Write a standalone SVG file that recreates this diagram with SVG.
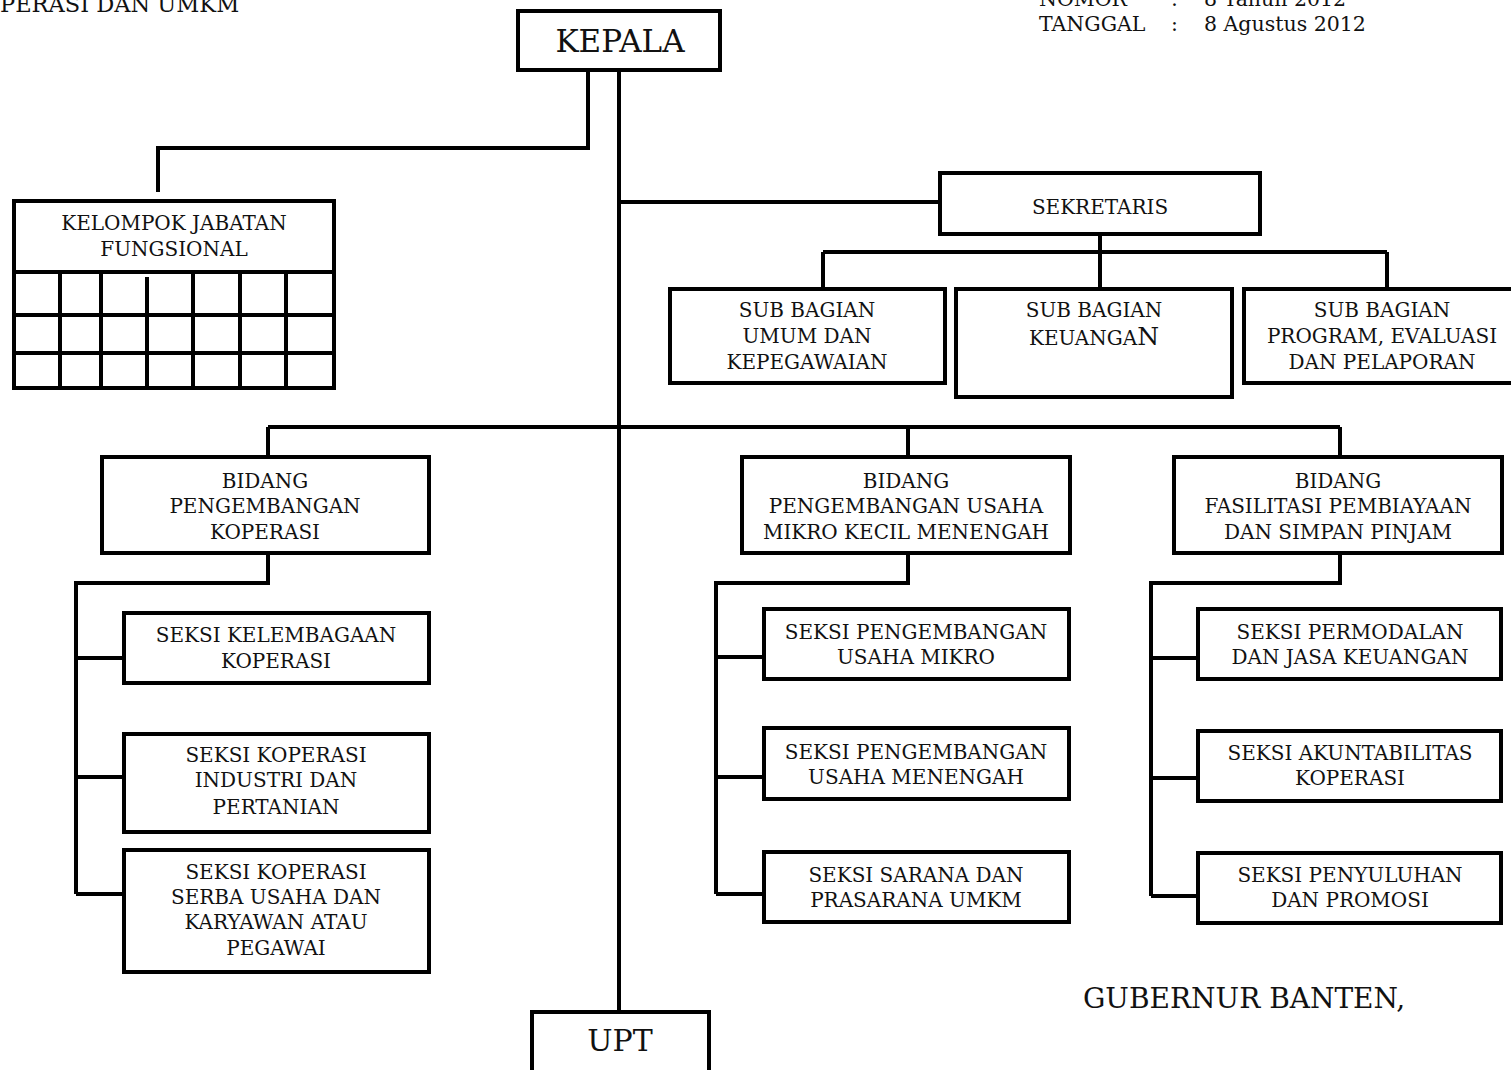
<svg xmlns="http://www.w3.org/2000/svg" width="1511" height="1070" viewBox="0 0 1511 1070">
<style>
.b{fill:#fff;stroke:#000;stroke-width:4}
.c{fill:none;stroke:#000;stroke-width:4}
text{font-family:"DejaVu Serif","Liberation Serif",serif;fill:#111;text-anchor:middle}
.t{font-size:20px}
.h{font-size:31px}
.l{font-size:20.5px;text-anchor:start}
</style>
<rect width="1511" height="1070" fill="#fff"/>
<text class="l" x="0" y="12" style="font-size:22.5px">PERASI DAN UMKM</text>
<text class="l" x="1039" y="6">NOMOR</text><text class="l" x="1171" y="6">:</text><text class="l" x="1204" y="6">8  Tahun 2012</text>
<text class="l" x="1039" y="31">TANGGAL</text><text class="l" x="1171" y="31">:</text><text class="l" x="1204" y="31">8 Agustus 2012</text>
<g id="connectors">
<path class="c" d="M588 70V148H158V192"/>
<path class="c" d="M619 70V1012"/>
<path class="c" d="M619 202H940"/>
<path class="c" d="M1100 234V252M823 252H1387M823 252V289M1100 252V289M1387 252V289"/>
<path class="c" d="M268 427H1340M268 427V457M908 427V457M1340 427V457"/>
<path class="c" d="M268 554V583H76V894M76 658H123M76 777H123M76 894H123"/>
<path class="c" d="M908 554V583H716V894M716 657H763M716 777H763M716 894H763"/>
<path class="c" d="M1340 554V583H1151V896M1151 658H1197M1151 778H1197M1151 896H1197"/>
</g>
<g id="kepala"><rect class="b" x="518" y="11" width="202" height="59"/><text class="h" x="620" y="52">KEPALA</text></g>
<g id="kelompok">
<rect class="b" x="14" y="201" width="320" height="71"/>
<text class="t" x="174" y="230">KELOMPOK JABATAN</text>
<text class="t" x="174" y="256">FUNGSIONAL</text>
<path class="c" d="M14 272V390M60 272V390M101 272V390M147 277V390M193 272V390M240 272V390M286 272V390M334 272V390M14 315H334M14 353H334M12 388H336"/>
</g>
<g id="sekretaris"><rect class="b" x="940" y="173" width="320" height="61"/><text class="t" x="1100" y="214">SEKRETARIS</text></g>
<g id="sub1"><rect class="b" x="670" y="289" width="275" height="94"/><text class="t" x="807" y="317">SUB BAGIAN</text><text class="t" x="807" y="343">UMUM DAN</text><text class="t" x="807" y="369">KEPEGAWAIAN</text></g>
<g id="sub2"><rect class="b" x="956" y="289" width="276" height="108"/><text class="t" x="1094" y="317">SUB BAGIAN</text><text class="t" x="1094" y="345">KEUANGA<tspan font-size="25">N</tspan></text></g>
<g id="sub3"><rect class="b" x="1244" y="289" width="272" height="94"/><text class="t" x="1382" y="317">SUB BAGIAN</text><text class="t" x="1382" y="343">PROGRAM, EVALUASI</text><text class="t" x="1382" y="369">DAN PELAPORAN</text></g>
<g id="bidang1"><rect class="b" x="102" y="457" width="327" height="96"/><text class="t" x="265" y="488">BIDANG</text><text class="t" x="265" y="513">PENGEMBANGAN</text><text class="t" x="265" y="539">KOPERASI</text></g>
<g id="bidang2"><rect class="b" x="742" y="457" width="328" height="96"/><text class="t" x="906" y="488">BIDANG</text><text class="t" x="906" y="513">PENGEMBANGAN USAHA</text><text class="t" x="906" y="539">MIKRO KECIL MENENGAH</text></g>
<g id="bidang3"><rect class="b" x="1174" y="457" width="328" height="96"/><text class="t" x="1338" y="488">BIDANG</text><text class="t" x="1338" y="513">FASILITASI PEMBIAYAAN</text><text class="t" x="1338" y="539">DAN SIMPAN PINJAM</text></g>
<g id="seksi11"><rect class="b" x="124" y="613" width="305" height="70"/><text class="t" x="276" y="642">SEKSI KELEMBAGAAN</text><text class="t" x="276" y="668">KOPERASI</text></g>
<g id="seksi12"><rect class="b" x="124" y="734" width="305" height="98"/><text class="t" x="276" y="762">SEKSI KOPERASI</text><text class="t" x="276" y="787">INDUSTRI DAN</text><text class="t" x="276" y="814">PERTANIAN</text></g>
<g id="seksi13"><rect class="b" x="124" y="850" width="305" height="122"/><text class="t" x="276" y="879">SEKSI KOPERASI</text><text class="t" x="276" y="904">SERBA USAHA DAN</text><text class="t" x="276" y="929">KARYAWAN ATAU</text><text class="t" x="276" y="955">PEGAWAI</text></g>
<g id="seksi21"><rect class="b" x="764" y="609" width="305" height="70"/><text class="t" x="916" y="639">SEKSI PENGEMBANGAN</text><text class="t" x="916" y="664">USAHA MIKRO</text></g>
<g id="seksi22"><rect class="b" x="764" y="728" width="305" height="71"/><text class="t" x="916" y="759">SEKSI PENGEMBANGAN</text><text class="t" x="916" y="784">USAHA MENENGAH</text></g>
<g id="seksi23"><rect class="b" x="764" y="852" width="305" height="70"/><text class="t" x="916" y="882">SEKSI SARANA DAN</text><text class="t" x="916" y="907">PRASARANA UMKM</text></g>
<g id="seksi31"><rect class="b" x="1198" y="609" width="303" height="70"/><text class="t" x="1350" y="639">SEKSI PERMODALAN</text><text class="t" x="1350" y="664">DAN JASA KEUANGAN</text></g>
<g id="seksi32"><rect class="b" x="1198" y="731" width="303" height="70"/><text class="t" x="1350" y="760">SEKSI AKUNTABILITAS</text><text class="t" x="1350" y="785">KOPERASI</text></g>
<g id="seksi33"><rect class="b" x="1198" y="853" width="303" height="70"/><text class="t" x="1350" y="882">SEKSI PENYULUHAN</text><text class="t" x="1350" y="907">DAN PROMOSI</text></g>
<g id="upt"><rect class="b" x="532" y="1012" width="177" height="70"/><text class="h" x="620" y="1051" style="font-size:30px">UPT</text></g>
<text class="l" x="1083" y="1008" style="font-size:28px">GUBERNUR BANTEN,</text>
</svg>
